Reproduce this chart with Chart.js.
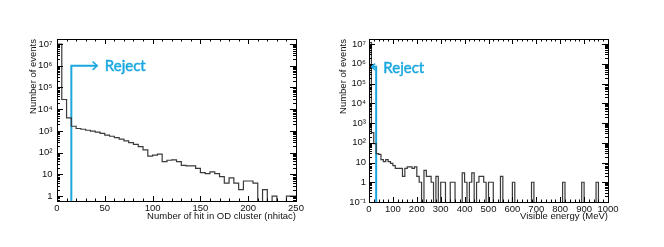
<!DOCTYPE html>
<html><head><meta charset="utf-8">
<script src="https://cdn.jsdelivr.net/npm/chart.js@4/dist/chart.umd.min.js"></script>
<style>
html,body{margin:0;padding:0;background:#fff;}
#wrap{position:relative;width:664px;height:247px;overflow:hidden;background:#fff;}
.c{position:absolute;top:0;width:332px;height:247px;}
</style></head><body>
<div id="wrap">
<div class="c" style="left:0"><canvas id="c1" width="332" height="247"></canvas></div>
<div class="c" style="left:332px"><canvas id="c2" width="332" height="247"></canvas></div>
</div>
<script>
// ---------- data ----------
const nhitBinWidth = 5;
const nhitCounts = [1.0e7, 2.8e4, 4.0e3, 1650, 1300, 1200, 1080, 980, 880, 780,
  650, 570, 490, 420, 350, 290, 240, 190, 135, 70,
  78, 86, 39, 45, 47, 39, 26, 25, 25, 19,
  12, 11, 13, 11, 8, 4, 7, 4, 2, 5,
  5, 4, 0, 2, 0, 1, 0, 0, 1, 1];
const energyBinWidth = 10;
const energyCounts = [1.2e7, 330, 90, 28, 26, 14, 11, 14, 11, 9,
  7, 5, 5, 5, 2, 5, 6, 6, 5, 6,
  2, 1, 0, 4, 2, 2, 1, 0, 2, 0,
  1, 1, 0, 0, 1, 1, 0, 0, 0, 3,
  1, 0, 1, 3, 0, 1, 2, 2, 1, 0,
  1, 1, 0, 0, 0, 2, 0, 0, 0, 0,
  1, 0, 0, 0, 0, 0, 0, 0, 1, 0,
  0, 0, 0, 0, 0, 0, 0, 0, 0, 0,
  0, 1, 0, 0, 0, 0, 0, 0, 0, 1,
  0, 0, 0, 0, 0, 1, 0, 0, 0, 0];
const nhitXTicks = [0, 50, 100, 150, 200, 250];
const energyXTicks = [0, 100, 200, 300, 400, 500, 600, 700, 800, 900, 1000];
const nhitYTicks = [1, 10, 1e2, 1e3, 1e4, 1e5, 1e6, 1e7];
const nhitYLabels = ['1', '10', '10²', '10³', '10⁴', '10⁵', '10⁶', '10⁷'];
const energyYTicks = [0.1, 1, 10, 1e2, 1e3, 1e4, 1e5, 1e6, 1e7];
const energyYLabels = ['10⁻¹', '1', '10', '10²', '10³', '10⁴', '10⁵', '10⁶', '10⁷'];
const nhitTitleX = 'Number of hit in OD cluster (nhitac)';
const energyTitleX = 'Visible energy (MeV)';
const titleY = 'Number of events';
const nhitCut = 15, nhitArrowTip = 42, nhitArrowLevel = 1e6;
const energyCut = 30, energyArrowTip = 11, energyArrowLevel = 7e5;
const rejectText = 'Reject';

// ---------- helpers ----------
const FONT = '"Liberation Sans", Arial, Helvetica, sans-serif';
const BLUE = '#1aa7e0';

function histPoints(counts, w, floor) {
  const pts = counts.map((v, i) => ({x: i * w, y: v > 0 ? v : floor}));
  pts.push({x: counts.length * w, y: counts[counts.length - 1] > 0 ? counts[counts.length - 1] : floor});
  return pts;
}

const frameTicks = {
  id: 'frameTicks',
  afterDatasetsDraw(chart, args, o) {
    const {ctx, chartArea: a, scales: {x, y}} = chart;
    ctx.save();
    ctx.strokeStyle = '#000';
    ctx.lineWidth = 1;
    ctx.beginPath();
    for (let v = x.min; v <= x.max + 1e-9; v += o.xMinor) {
      const px = Math.round(x.getPixelForValue(v)) + 0.5;
      const isMaj = Math.abs((v / o.xMajor) - Math.round(v / o.xMajor)) < 1e-6;
      const L = isMaj ? 5 : 2.5;
      ctx.moveTo(px, a.bottom); ctx.lineTo(px, a.bottom - L);
      ctx.moveTo(px, a.top); ctx.lineTo(px, a.top + L);
    }
    const d0 = Math.floor(Math.log10(y.min)), d1 = Math.ceil(Math.log10(y.max));
    for (let d = d0; d <= d1; d++) {
      for (let m = 1; m <= 9; m++) {
        const v = m * Math.pow(10, d);
        if (v < y.min * 0.999 || v > y.max) continue;
        const py = Math.round(y.getPixelForValue(v)) + 0.5;
        const L = m === 1 ? 6 : 3;
        ctx.moveTo(a.left, py); ctx.lineTo(a.left + L, py);
        ctx.moveTo(a.right, py); ctx.lineTo(a.right - L, py);
      }
    }
    ctx.stroke();
    ctx.strokeRect(Math.round(a.left) + 0.5, Math.round(a.top) + 0.5, Math.round(a.right - a.left), Math.round(a.bottom - a.top));
    const r = o.reject;
    const tx = x.getPixelForValue(r.tip), ty = y.getPixelForValue(r.level);
    ctx.strokeStyle = BLUE; ctx.lineWidth = 1.6;
    ctx.beginPath();
    const dir = r.tip > r.cut ? 1 : -1;
    ctx.moveTo(tx - dir * r.head, ty - r.head * 0.9);
    ctx.lineTo(tx, ty);
    ctx.lineTo(tx - dir * r.head, ty + r.head * 0.9);
    ctx.stroke();
    ctx.fillStyle = BLUE;
    ctx.font = '15px Lato, "Open Sans", sans-serif';
    ctx.textBaseline = 'middle';
    ctx.textAlign = 'left';
    const lx = x.getPixelForValue(r.textX);
    ctx.fillText(rejectText, lx, ty + r.textDy);
    ctx.lineWidth = 0.45;
    ctx.strokeText(rejectText, lx, ty + r.textDy);
    ctx.restore();
  }
};

function makeChart(id, cfg) {
  const floor = cfg.ymin / 1000;
  return new Chart(document.getElementById(id), {
    type: 'line',
    data: {
      datasets: [{
        data: histPoints(cfg.counts, cfg.bw, floor),
        stepped: true,
        borderColor: '#3a3a3a',
        borderWidth: 1.2,
        pointRadius: 0,
        fill: false
      }, {
        data: [{x: cfg.reject.cut, y: floor}, {x: cfg.reject.cut, y: cfg.reject.level}, {x: cfg.reject.tip, y: cfg.reject.level}],
        borderColor: BLUE,
        borderWidth: 2,
        pointRadius: 0,
        fill: false
      }]
    },
    options: {
      responsive: false,
      animation: false,
      devicePixelRatio: 1,
      layout: {padding: {left: 0, right: cfg.padRight, top: 39, bottom: 0}},
      plugins: {
        legend: {display: false},
        tooltip: {enabled: false},
        frameTicks: {xMajor: cfg.xMajor, xMinor: cfg.xMinor, reject: cfg.reject}
      },
      scales: {
        x: {
          type: 'linear', min: cfg.xTicks[0], max: cfg.xTicks[cfg.xTicks.length - 1],
          grid: {display: false, drawTicks: false},
          border: {display: false},
          afterBuildTicks: s => { s.ticks = cfg.xTicks.map(v => ({value: v})); },
          afterFit: s => { s.height = 247 - cfg.bottom; },
          ticks: {padding: 2, maxRotation: 0, autoSkip: false, color: '#111',
            font: {family: FONT, size: 9.5}, callback: v => String(v)},
          title: {display: true, text: cfg.titleX, align: 'end', color: '#111',
            font: {family: FONT, size: 9.5}, padding: {top: 0, bottom: 25}}
        },
        y: {
          type: 'logarithmic', min: cfg.ymin, max: cfg.ymax,
          grid: {display: false, drawTicks: false},
          border: {display: false},
          afterBuildTicks: s => { s.ticks = cfg.yTicks.map(v => ({value: v})); },
          afterFit: s => { s.width = cfg.left; },
          ticks: {padding: cfg.yPad, autoSkip: false, color: '#111',
            font: {family: FONT, size: 9.5}, callback: (v, i) => cfg.yLabels[i]},
          title: {display: true, text: titleY, align: 'end', color: '#111',
            font: {family: FONT, size: 9.5}, padding: {top: cfg.yTitlePad, bottom: 0}}
        }
      }
    },
    plugins: [frameTicks]
  });
}

makeChart('c1', {
  counts: nhitCounts, bw: nhitBinWidth, xTicks: nhitXTicks, xMajor: 50, xMinor: 10,
  yTicks: nhitYTicks, yLabels: nhitYLabels, ymin: 0.6, ymax: 1.7e7,
  titleX: nhitTitleX, left: 57, padRight: 36, bottom: 201, yPad: 4.5, yTitlePad: 27.5,
  reject: {cut: nhitCut, tip: nhitArrowTip, level: nhitArrowLevel, head: 4.5, textX: 50, textDy: 0}
});
makeChart('c2', {
  counts: energyCounts, bw: energyBinWidth, xTicks: energyXTicks, xMajor: 100, xMinor: 20,
  yTicks: energyYTicks, yLabels: energyYLabels, ymin: 0.1, ymax: 1.8e7,
  titleX: energyTitleX, left: 37, padRight: 56, bottom: 202, yPad: 3, yTitlePad: 6,
  reject: {cut: energyCut, tip: energyArrowTip, level: energyArrowLevel, head: 3.5, textX: 60, textDy: 1}
});
</script>
</body></html>
